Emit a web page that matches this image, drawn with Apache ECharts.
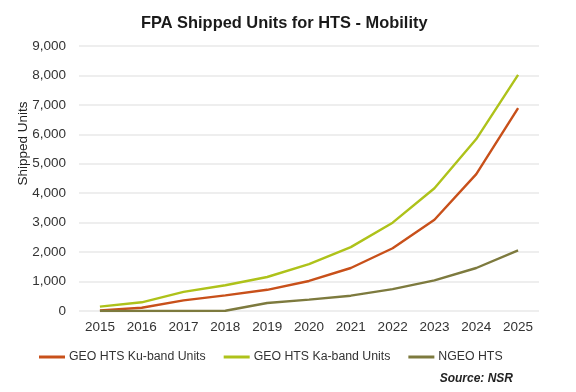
<!DOCTYPE html>
<html><head><meta charset="utf-8">
<script src="https://cdn.jsdelivr.net/npm/echarts@6/dist/echarts.min.js"></script>
<style>html,body{margin:0;padding:0;background:#fff}#c{width:576px;height:392px}</style>
</head><body><div id="c"></div>
<script>
var years = ['2015','2016','2017','2018','2019','2020','2021','2022','2023','2024','2025'];
var kuUnits = [20, 110, 360, 530, 720, 1020, 1460, 2130, 3100, 4650, 6890];
var kaUnits = [150, 295, 650, 875, 1155, 1590, 2170, 3000, 4170, 5840, 8020];
var ngeoUnits = [0, 0, 0, 10, 270, 385, 520, 745, 1040, 1460, 2060];
var seriesNames = ['GEO HTS Ku-band Units', 'GEO HTS Ka-band Units', 'NGEO HTS'];
var colors = ['#c8501a', '#aec21a', '#7d7a3e'];

var font = 'Liberation Sans, Arial, sans-serif';
var chart = echarts.init(document.getElementById('c'));
function mk(name, data, color) {
  return {name: name, type: 'line', data: data, symbol: 'none', smooth: false,
    lineStyle: {color: color, width: 2.4}, itemStyle: {color: color}};
}
chart.setOption({
  animation: false,
  color: colors,
  title: [{text: 'FPA Shipped Units for HTS - Mobility', left: 136, top: 10,
    textStyle: {fontFamily: font, fontWeight: 'bold', fontSize: 16.4, color: '#1a1a1a'}},
    {text: 'Source: NSR', right: 58, top: 368,
    textStyle: {fontFamily: font, fontStyle: 'italic', fontWeight: 'bold', fontSize: 12, color: '#222'}}],
  grid: {left: 79, right: 37, top: 46, bottom: 81},
  legend: {left: 34, top: 346, itemWidth: 26, itemHeight: 3, itemGap: 18, icon: 'rect',
    textStyle: {fontFamily: font, fontSize: 12.3, color: '#333', padding: [0,0,0,-1]},
    data: seriesNames},
  xAxis: {type: 'category', data: years, boundaryGap: true,
    axisLine: {show: false}, axisTick: {show: false},
    axisLabel: {fontFamily: font, fontSize: 13.5, color: '#333', margin: 9}},
  yAxis: {type: 'value', min: 0, max: 9000, interval: 1000,
    name: 'Shipped Units', nameLocation: 'middle', nameGap: 49, nameRotate: 90, nameMoveOverlap: false,
    nameTextStyle: {fontFamily: font, fontSize: 13.5, color: '#222', padding: [0,0,0,70]},
    axisLine: {show: false}, axisTick: {show: false},
    axisLabel: {fontFamily: font, fontSize: 13.5, color: '#333', margin: 13,
      formatter: function(v){ return v.toLocaleString('en-US'); }},
    splitLine: {lineStyle: {color: '#e8e8e8', width: 1.5}}},
  series: [mk(seriesNames[0], kuUnits, colors[0]), mk(seriesNames[1], kaUnits, colors[1]), mk(seriesNames[2], ngeoUnits, colors[2])]
});
</script></body></html>
